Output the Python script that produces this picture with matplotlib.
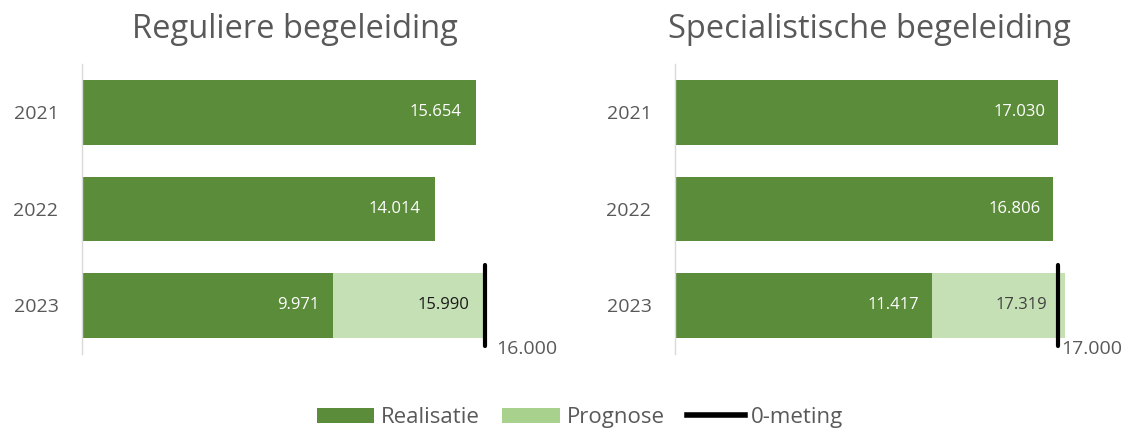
import matplotlib
matplotlib.use('Agg')
import matplotlib.pyplot as plt
from matplotlib.patches import Patch
from matplotlib.lines import Line2D

plt.rcParams['font.family'] = ['Open Sans', 'DejaVu Sans']

# Data
years = ['2021', '2022', '2023']
titles = ['Reguliere begeleiding', 'Specialistische begeleiding']
realisatie = [[15654, 14014, 9971], [17030, 16806, 11417]]
prognose_2023 = [15990, 17319]
nulmeting = [16000, 17000]
xmax = [19000, 20000]

DARK = '#5B8C3A'
LIGHT = '#C5E0B4'
LIGHT_LEG = '#A9D18E'
GRAY = '#595959'

def fmt(v):
    return f'{v:,}'.replace(',', '.')

fig = plt.figure(figsize=(11.33, 4.32), dpi=100)
axes_pos = [[82 / 1133, 0.181, 478 / 1133, 0.671],
            [675 / 1133, 0.181, 450 / 1133, 0.671]]
title_x = [295 / 1133, 869 / 1133]

for i in range(2):
    ax = fig.add_axes(axes_pos[i])
    vals = realisatie[i]
    ypos = list(range(len(years)))
    ax.barh(ypos, vals, height=0.67, color=DARK, zorder=2)
    # prognose stacked on 2023
    ax.barh(2, prognose_2023[i] - vals[2], left=vals[2], height=0.67,
            color=LIGHT, zorder=2)
    for y, v in zip(ypos, vals):
        ax.text(v - 550, y, fmt(v), ha='right', va='center', color='white',
                fontsize=12, zorder=3)
    ax.text(prognose_2023[i] - 600 if i == 0 else nulmeting[i] - 450, 2,
            fmt(prognose_2023[i]), ha='right', va='center',
            color='#1A1A1A' if i == 0 else '#404040', fontsize=12, zorder=3)
    # 0-meting marker
    ax.plot([nulmeting[i], nulmeting[i]], [2 - 0.42, 2 + 0.42], color='black',
            lw=3, solid_capstyle='round', zorder=4)
    ax.text(nulmeting[i] + (450 if i == 0 else 150), 2.45, fmt(nulmeting[i]),
            ha='left', va='center', color=GRAY, fontsize=14)

    ax.set_xlim(0, xmax[i])
    ax.set_ylim(2.5, -0.5)
    ax.set_yticks(ypos)
    ax.set_yticklabels(years, color=GRAY, fontsize=14)
    ax.tick_params(axis='y', length=0, pad=17)
    ax.set_xticks([])
    for s in ['top', 'right', 'bottom']:
        ax.spines[s].set_visible(False)
    ax.spines['left'].set_color('#D9D9D9')
    ax.spines['left'].set_linewidth(1)
    fig.text(title_x[i], 1 - 30 / 432, titles[i], fontsize=23.5, color=GRAY,
             ha='center', va='center')

handles = [Patch(facecolor=DARK, label='Realisatie'),
           Patch(facecolor=LIGHT_LEG, label='Prognose'),
           Line2D([], [], color='black', lw=4, label='0-meting')]
fig.legend(handles=handles, loc='center', bbox_to_anchor=(0.512, 0.033), ncol=3,
           frameon=False, fontsize=16, handlelength=2.6, handleheight=0.7,
           columnspacing=1.0, handletextpad=0.3, labelcolor=GRAY)

fig.savefig('out.png', dpi=100, facecolor='white')
